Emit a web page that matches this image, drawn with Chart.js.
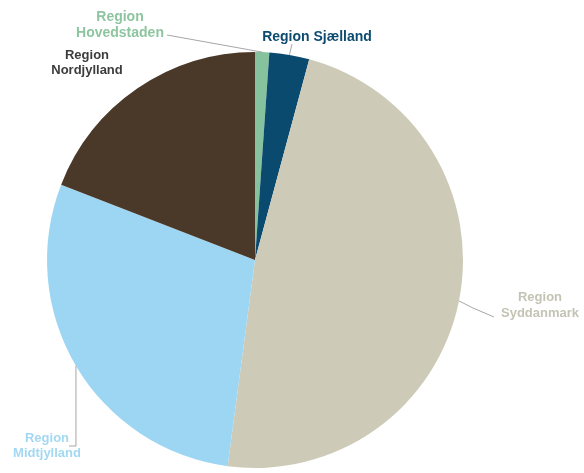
<!DOCTYPE html>
<html>
<head>
<meta charset="utf-8">
<script src="https://cdn.jsdelivr.net/npm/chart.js@4/dist/chart.umd.min.js"></script>
<style>
  html, body { margin: 0; padding: 0; background: #fff; }
  canvas { display: block; }
</style>
</head>
<body>
<canvas id="chart" width="584" height="473"></canvas>
<script>
// Data (shares in %, clockwise from 12 o'clock)
const regions = ["Region Hovedstaden", "Region Sjælland", "Region Syddanmark", "Region Midtjylland", "Region Nordjylland"];
const shares = [1.1, 3.1, 47.9, 28.8, 19.1];
const sliceColors = ["#86c29d", "#0b4a6f", "#cdcbb8", "#9dd6f3", "#4a3828"];

// Label text lines per slice
const labelLines = [
  ["Region", "Hovedstaden"],
  ["Region Sjælland"],
  ["Region", "Syddanmark"],
  ["Region", "Midtjylland"],
  ["Region", "Nordjylland"]
];

// Label layout: text anchor, line path end, font, colour
const labelLayout = [
  { x: 120, y: 17, lh: 16, size: 14, color: "#8ec5a0", leader: [[167, 35]] },
  { x: 317, y: 37, lh: 16, size: 14, color: "#0d4b70", leader: [[292, 44]] },
  { x: 540, y: 297, lh: 16, size: 13, color: "#c4c3b4", leader: [[473, 308], [494, 317]] },
  { x: 47, y: 438, lh: 15, size: 13, color: "#a3d8f3", leader: [["x", 446], [69, 446]] },
  { x: 87, y: 55, lh: 15, size: 13, color: "#3c3c3c", leader: null }
];

const labelPlugin = {
  id: "sliceLabels",
  afterDatasetsDraw(chart) {
    const ctx = chart.ctx;
    const arcs = chart.getDatasetMeta(0).data;

    arcs.forEach((arc, i) => {
      const p = arc.getProps(["x", "y", "startAngle", "endAngle", "outerRadius"], true);
      const mid = (p.startAngle + p.endAngle) / 2;
      const ex = p.x + Math.cos(mid) * p.outerRadius;
      const ey = p.y + Math.sin(mid) * p.outerRadius;
      const lay = labelLayout[i];

      ctx.save();

      if (lay.leader) {
        ctx.strokeStyle = "#a6a6a6";
        ctx.lineWidth = 1;
        ctx.beginPath();
        ctx.moveTo(ex, ey);
        for (let pt of lay.leader) {
          ctx.lineTo(pt[0] === "x" ? ex : pt[0], pt[1]);
        }
        ctx.stroke();
      }

      ctx.fillStyle = lay.color;
      ctx.font = `bold ${lay.size}px "Liberation Sans", Arial, sans-serif`;
      ctx.textAlign = "center";
      ctx.textBaseline = "middle";
      labelLines[i].forEach((line, j) => {
        ctx.fillText(line, lay.x, lay.y + j * lay.lh);
      });

      ctx.restore();
    });
  }
};

new Chart(document.getElementById("chart").getContext("2d"), {
  type: "pie",
  data: {
    labels: regions,
    datasets: [{
      data: shares,
      backgroundColor: sliceColors,
      borderWidth: 0
    }]
  },
  options: {
    responsive: false,
    animation: false,
    layout: {
      padding: { left: 47, right: 121, top: 52, bottom: 5 }
    },
    plugins: {
      legend: { display: false },
      tooltip: { enabled: false }
    }
  },
  plugins: [labelPlugin]
});
</script>
</body>
</html>
